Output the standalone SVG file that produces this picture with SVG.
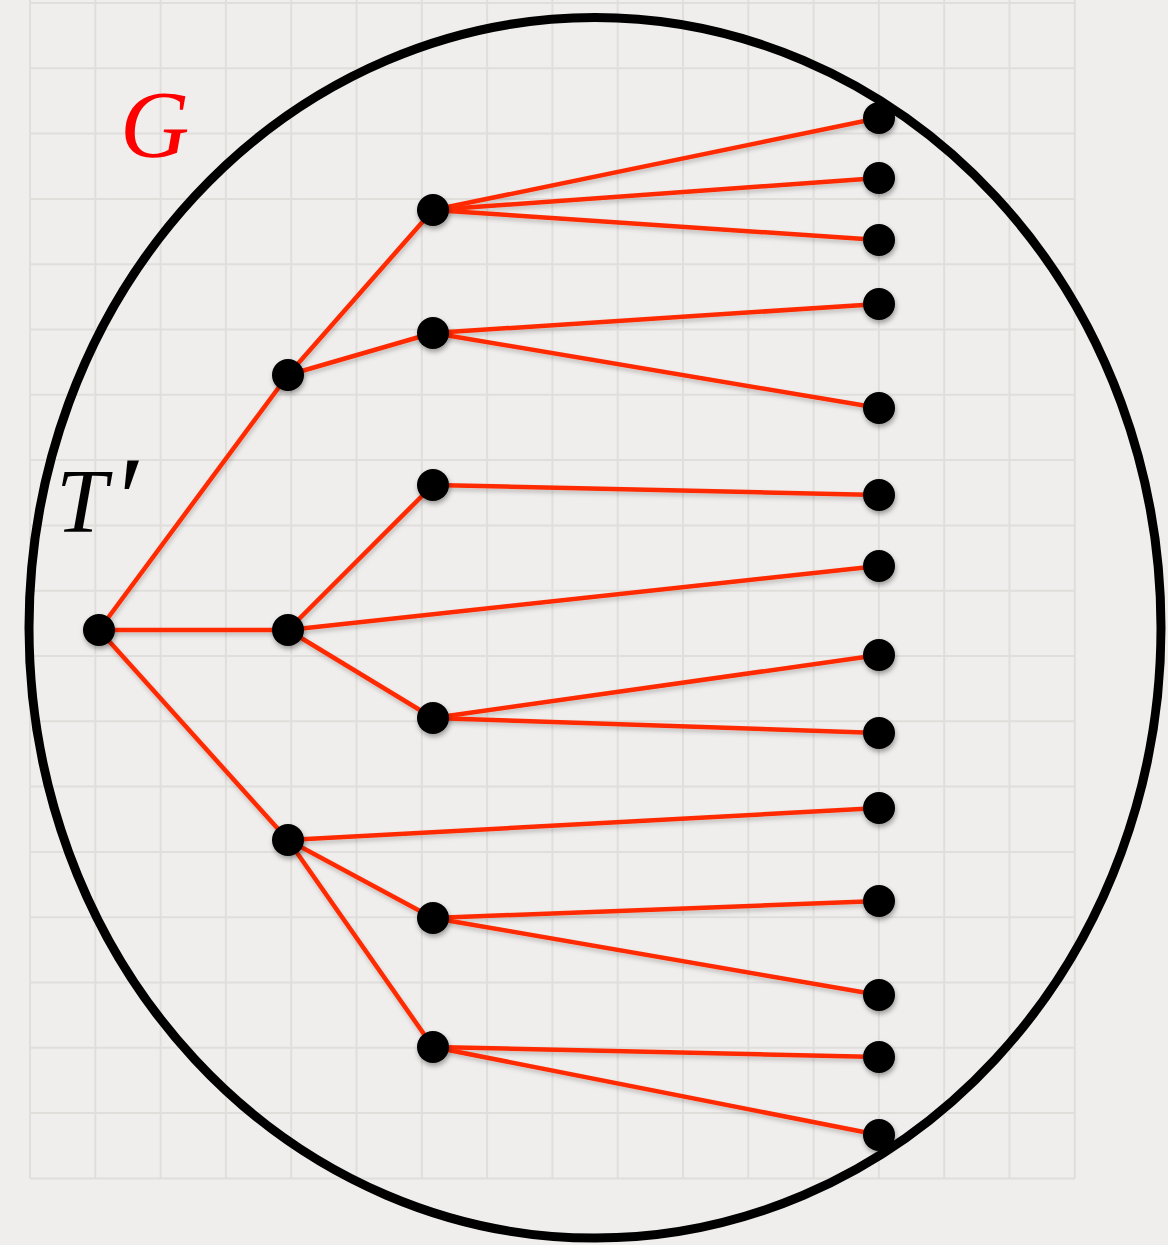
<svg xmlns="http://www.w3.org/2000/svg" width="1168" height="1245" viewBox="0 0 1168 1245">
<defs>
<style>
.grid line{stroke:#dfdedb;stroke-width:2}
.edge{stroke:#ff2a06;stroke-width:4.5;stroke-linecap:round;fill:none}
.node{fill:#000}
.lbl{font-family:"Liberation Serif","DejaVu Serif",serif;font-style:italic}
</style>
<filter id="sh" x="-50%" y="-50%" width="200%" height="200%">
<feDropShadow dx="1" dy="3" stdDeviation="2.5" flood-color="#000" flood-opacity="0.35"/>
</filter>
<filter id="lsh" x="-10%" y="-10%" width="120%" height="120%">
<feDropShadow dx="1" dy="3" stdDeviation="2" flood-color="#000" flood-opacity="0.2"/>
</filter>
</defs>
<rect width="1168" height="1245" fill="#efeeec"/>
<g class="grid">
<line x1="30" y1="0" x2="30" y2="1178"/><line x1="95.3" y1="0" x2="95.3" y2="1178"/><line x1="160.6" y1="0" x2="160.6" y2="1178"/><line x1="225.9" y1="0" x2="225.9" y2="1178"/><line x1="291.2" y1="0" x2="291.2" y2="1178"/><line x1="356.5" y1="0" x2="356.5" y2="1178"/><line x1="421.8" y1="0" x2="421.8" y2="1178"/><line x1="487.1" y1="0" x2="487.1" y2="1178"/><line x1="552.4" y1="0" x2="552.4" y2="1178"/><line x1="617.7" y1="0" x2="617.7" y2="1178"/><line x1="683" y1="0" x2="683" y2="1178"/><line x1="748.3" y1="0" x2="748.3" y2="1178"/><line x1="813.6" y1="0" x2="813.6" y2="1178"/><line x1="878.9" y1="0" x2="878.9" y2="1178"/><line x1="944.2" y1="0" x2="944.2" y2="1178"/><line x1="1009.5" y1="0" x2="1009.5" y2="1178"/><line x1="1074.8" y1="0" x2="1074.8" y2="1178"/>
<line x1="30" y1="3" x2="1075" y2="3"/><line x1="30" y1="68.3" x2="1075" y2="68.3"/><line x1="30" y1="133.6" x2="1075" y2="133.6"/><line x1="30" y1="198.9" x2="1075" y2="198.9"/><line x1="30" y1="264.2" x2="1075" y2="264.2"/><line x1="30" y1="329.5" x2="1075" y2="329.5"/><line x1="30" y1="394.8" x2="1075" y2="394.8"/><line x1="30" y1="460.1" x2="1075" y2="460.1"/><line x1="30" y1="525.4" x2="1075" y2="525.4"/><line x1="30" y1="590.7" x2="1075" y2="590.7"/><line x1="30" y1="656" x2="1075" y2="656"/><line x1="30" y1="721.3" x2="1075" y2="721.3"/><line x1="30" y1="786.6" x2="1075" y2="786.6"/><line x1="30" y1="851.9" x2="1075" y2="851.9"/><line x1="30" y1="917.2" x2="1075" y2="917.2"/><line x1="30" y1="982.5" x2="1075" y2="982.5"/><line x1="30" y1="1047.8" x2="1075" y2="1047.8"/><line x1="30" y1="1113.1" x2="1075" y2="1113.1"/><line x1="30" y1="1178.4" x2="1075" y2="1178.4"/>
</g>
<g id="region-G">
<ellipse cx="595" cy="627.8" rx="566" ry="610.3" fill="none" stroke="#000" stroke-width="9"/>
<text class="lbl" x="120" y="157" font-size="96" fill="#ff0000">G</text>
</g>
<text id="label-T" class="lbl" x="56" y="532" font-size="92" fill="#000">T<tspan font-size="120" dx="4" dy="8">′</tspan></text>
<g id="connectors" class="edge" filter="url(#lsh)">
<line x1="99" y1="630" x2="288" y2="375"/>
<line x1="99" y1="630" x2="288" y2="630"/>
<line x1="99" y1="630" x2="288" y2="840"/>
<line x1="288" y1="375" x2="433" y2="210"/>
<line x1="288" y1="375" x2="433" y2="333"/>
<line x1="288" y1="630" x2="433" y2="485"/>
<line x1="288" y1="630" x2="433" y2="718"/>
<line x1="288" y1="630" x2="879" y2="566"/>
<line x1="288" y1="840" x2="879" y2="808"/>
<line x1="288" y1="840" x2="433" y2="918"/>
<line x1="288" y1="840" x2="433" y2="1047"/>
<line x1="433" y1="210" x2="879" y2="118"/>
<line x1="433" y1="210" x2="879" y2="178"/>
<line x1="433" y1="210" x2="879" y2="240"/>
<line x1="433" y1="333" x2="879" y2="304"/>
<line x1="433" y1="333" x2="879" y2="408"/>
<line x1="433" y1="485" x2="879" y2="495"/>
<line x1="433" y1="718" x2="879" y2="655"/>
<line x1="433" y1="718" x2="879" y2="733"/>
<line x1="433" y1="918" x2="879" y2="901"/>
<line x1="433" y1="918" x2="879" y2="995"/>
<line x1="433" y1="1047" x2="879" y2="1057"/>
<line x1="433" y1="1047" x2="879" y2="1135"/>
</g>
<g filter="url(#sh)">
<g id="n-root"><circle class="node" cx="99" cy="630" r="16"/></g>
<g id="n-a"><circle class="node" cx="288" cy="375" r="16"/></g>
<g id="n-b"><circle class="node" cx="288" cy="630" r="16"/></g>
<g id="n-c"><circle class="node" cx="288" cy="840" r="16"/></g>
<g id="n-a1"><circle class="node" cx="433" cy="210" r="16"/></g>
<g id="n-a2"><circle class="node" cx="433" cy="333" r="16"/></g>
<g id="n-b1"><circle class="node" cx="433" cy="485" r="16"/></g>
<g id="n-b2"><circle class="node" cx="433" cy="718" r="16"/></g>
<g id="n-c1"><circle class="node" cx="433" cy="918" r="16"/></g>
<g id="n-c2"><circle class="node" cx="433" cy="1047" r="16"/></g>
<g id="l1"><circle class="node" cx="879" cy="118" r="16"/></g>
<g id="l2"><circle class="node" cx="879" cy="178" r="16"/></g>
<g id="l3"><circle class="node" cx="879" cy="240" r="16"/></g>
<g id="l4"><circle class="node" cx="879" cy="304" r="16"/></g>
<g id="l5"><circle class="node" cx="879" cy="408" r="16"/></g>
<g id="l6"><circle class="node" cx="879" cy="495" r="16"/></g>
<g id="l7"><circle class="node" cx="879" cy="566" r="16"/></g>
<g id="l8"><circle class="node" cx="879" cy="655" r="16"/></g>
<g id="l9"><circle class="node" cx="879" cy="733" r="16"/></g>
<g id="l10"><circle class="node" cx="879" cy="808" r="16"/></g>
<g id="l11"><circle class="node" cx="879" cy="901" r="16"/></g>
<g id="l12"><circle class="node" cx="879" cy="995" r="16"/></g>
<g id="l13"><circle class="node" cx="879" cy="1057" r="16"/></g>
<g id="l14"><circle class="node" cx="879" cy="1135" r="16"/></g>
</g>
</svg>
